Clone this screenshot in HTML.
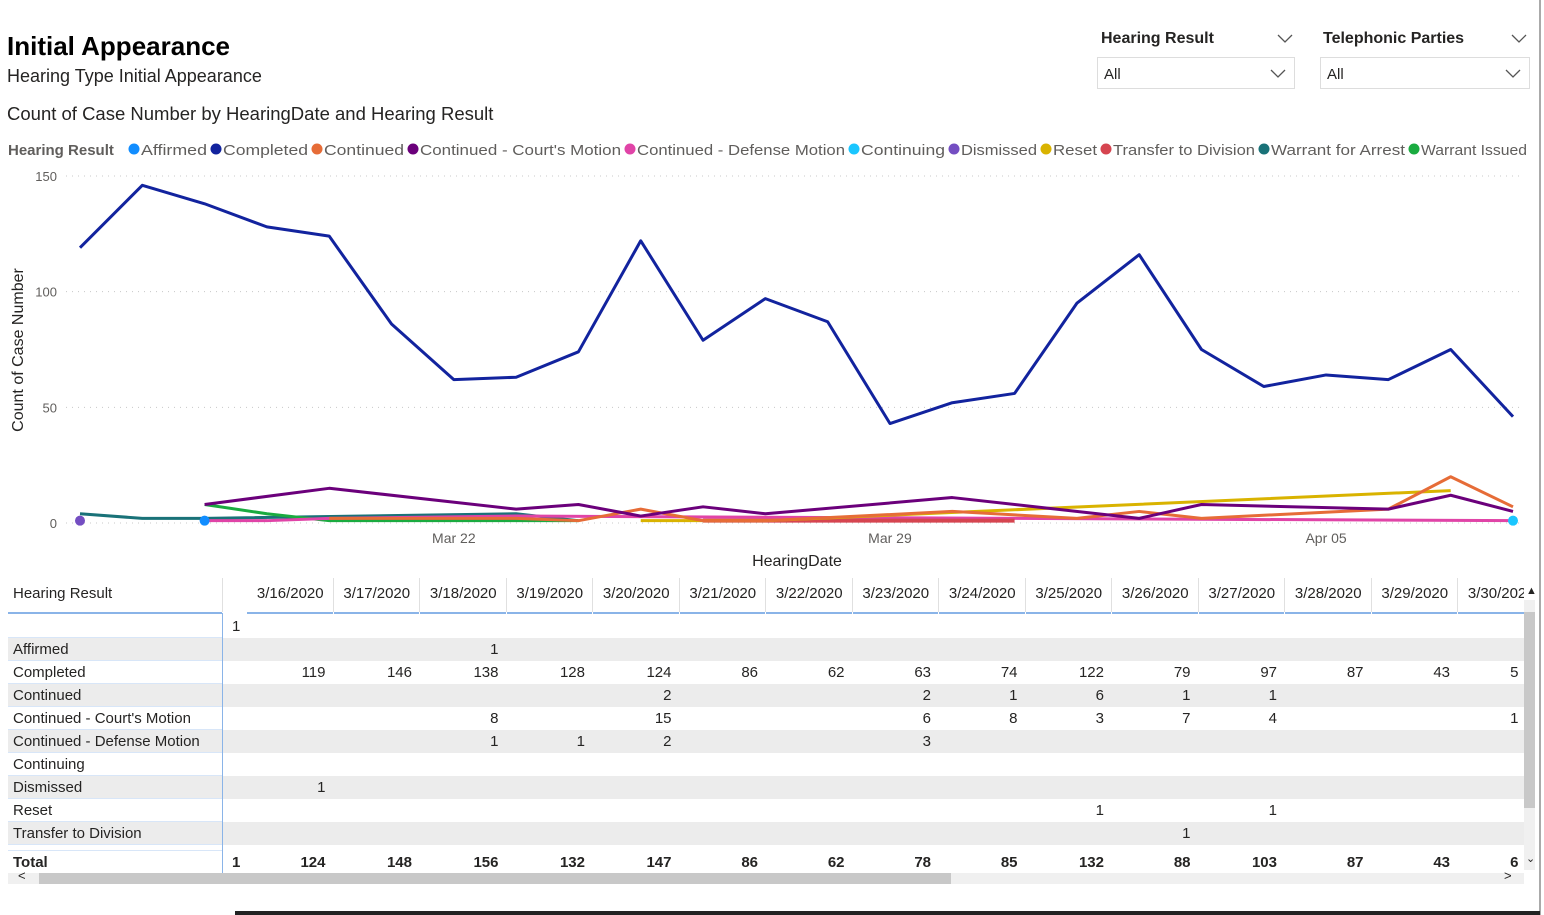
<!DOCTYPE html>
<html><head><meta charset="utf-8">
<style>
body{margin:0;width:1544px;height:915px;background:#fff;font-family:"Liberation Sans","DejaVu Sans",sans-serif;color:#252423;position:relative;overflow:hidden}
.abs{position:absolute;white-space:nowrap}
</style></head><body>
<div class="abs" style="left:7px;top:31px;font-size:26px;font-weight:bold;color:#000">Initial Appearance</div>
<div class="abs" style="left:7px;top:66px;font-size:18px">Hearing Type Initial Appearance</div>
<div class="abs" style="left:7px;top:103px;font-size:18.5px">Count of Case Number by HearingDate and Hearing Result</div>

<div class="abs" style="left:1101px;top:30px;font-size:16px;font-weight:bold">Hearing Result</div>
<svg class="abs" style="left:1277px;top:34px" width="16" height="10"><polyline points="1,1 8,8 15,1" fill="none" stroke="#555" stroke-width="1.3"/></svg>
<div class="abs" style="left:1097px;top:57px;width:198px;height:32px;border:1px solid #ddd;font-size:15px;line-height:34px;padding-left:6px;box-sizing:border-box">All<svg style="position:absolute;right:8px;top:11px" width="16" height="10"><polyline points="1,1 8,8 15,1" fill="none" stroke="#555" stroke-width="1.3"/></svg></div>
<div class="abs" style="left:1323px;top:30px;font-size:16px;font-weight:bold">Telephonic Parties</div>
<svg class="abs" style="left:1511px;top:34px" width="16" height="10"><polyline points="1,1 8,8 15,1" fill="none" stroke="#555" stroke-width="1.3"/></svg>
<div class="abs" style="left:1320px;top:57px;width:210px;height:32px;border:1px solid #ddd;font-size:15px;line-height:34px;padding-left:6px;box-sizing:border-box">All<svg style="position:absolute;right:8px;top:11px" width="16" height="10"><polyline points="1,1 8,8 15,1" fill="none" stroke="#555" stroke-width="1.3"/></svg></div>
<div class="abs" style="left:1539px;top:0;width:2px;height:915px;background:#aaa"></div>

<svg id="chart" width="1544" height="580" style="position:absolute;left:0;top:0"></svg>

<div id="table" style="position:absolute;left:0;top:575px;width:1524px;height:300px;overflow:hidden"></div>
<div class="abs" style="left:1524px;top:600px;width:11px;height:270px;background:#f0f0f0"><div style="margin-top:12px;height:196px;background:#c8c8c8"></div></div>
<div class="abs" style="left:1526px;top:585px;font-size:11px">&#9650;</div>
<div class="abs" style="left:1526px;top:852px;font-size:11px">&#8964;</div>
<div class="abs" style="left:8px;top:873px;width:1516px;height:11px;background:#f0f0f0"><div style="margin-left:31px;width:912px;height:11px;background:#c8c8c8"></div></div>
<div class="abs" style="left:18px;top:868px;font-size:13px">&lt;</div>
<div class="abs" style="left:1504px;top:868px;font-size:13px">&gt;</div>
<div class="abs" style="left:235px;top:911px;width:1305px;height:4px;background:#222"></div>

<script>
const dates=["Mar 16","Mar 17","Mar 18","Mar 19","Mar 20","Mar 21","Mar 22","Mar 23","Mar 24","Mar 25","Mar 26","Mar 27","Mar 28","Mar 29","Mar 30","Mar 31","Apr 01","Apr 02","Apr 03","Apr 04","Apr 05","Apr 06","Apr 07","Apr 08"];
const n=null;
const completed=[119,146,138,128,124,86,62,63,74,122,79,97,87,43,52,56,95,116,75,59,64,62,75,46];
const courtsMotion=[n,n,8,n,15,n,n,6,8,3,7,4,n,n,11,n,n,2,8,n,n,6,12,5];
const continued=[n,n,n,n,2,n,n,2,1,6,1,1,n,n,5,n,2,5,2,n,n,6,20,7];
const resetVals=[n,n,n,n,n,n,n,n,n,1,n,1,n,n,n,n,n,n,n,n,n,n,14,n];
const transferVals=[n,n,n,n,n,n,n,n,n,n,1,n,n,n,n,1,n,n,n,n,n,n,n,n];
const defenseMotion=[n,n,1,1,2,n,n,3,n,n,n,n,n,n,n,n,n,n,n,n,n,n,n,1];
const warrantArrest=[4,2,2,n,n,n,n,4,1,n,n,n,n,n,n,n,n,n,n,n,n,n,n,n];
const warrantIssued=[n,n,8,4,1,n,n,n,1,n,n,n,n,n,n,n,n,n,n,n,n,n,n,n];
const affirmed=[n,n,1,n,n,n,n,n,n,n,n,n,n,n,n,n,n,n,n,n,n,n,n,n];
const dismissed=[1,n,n,n,n,n,n,n,n,n,n,n,n,n,n,n,n,n,n,n,n,n,n,n];
const continuing=[n,n,n,n,n,n,n,n,n,n,n,n,n,n,n,n,n,n,n,n,n,n,n,1];
const yTicks=[0,50,100,150];
const xTickLabels=["Mar 22","Mar 29","Apr 05"];
const legendNames=["Affirmed","Completed","Continued","Continued - Court's Motion","Continued - Defense Motion","Continuing","Dismissed","Reset","Transfer to Division","Warrant for Arrest","Warrant Issued"];

const colors={"Affirmed":"#118DFF","Completed":"#12239E","Continued":"#E66C37","Continued - Court's Motion":"#6B007B","Continued - Defense Motion":"#E044A7","Continuing":"#1AC6FF","Dismissed":"#744EC2","Reset":"#D9B300","Transfer to Division":"#D64550","Warrant for Arrest":"#197278","Warrant Issued":"#1AAB40"};
const seriesMap={"Affirmed":affirmed,"Completed":completed,"Continued":continued,"Continued - Court's Motion":courtsMotion,"Continued - Defense Motion":defenseMotion,"Continuing":continuing,"Dismissed":dismissed,"Reset":resetVals,"Transfer to Division":transferVals,"Warrant for Arrest":warrantArrest,"Warrant Issued":warrantIssued};
const NS="http://www.w3.org/2000/svg";
const svg=document.getElementById('chart');
const x=i=>80+i*(1513-80)/(dates.length-1);
const y=v=>523-v*(523-176)/150;
function mk(t,a){const e=document.createElementNS(NS,t);for(const k in a)e.setAttribute(k,a[k]);svg.appendChild(e);return e;}
yTicks.forEach(t=>{
  const g=mk('line',{x1:66,x2:1524,y1:y(t),y2:y(t),stroke:'#c8c8c8','stroke-dasharray':'1 5'});
  
  
  const l=mk('text',{x:57,y:y(t)+5,'text-anchor':'end','font-size':13,fill:'#605e5c'});l.textContent=t;
  
  
});
xTickLabels.forEach(lab=>{
  const i=dates.indexOf(lab);
  const l=mk('text',{x:x(i),y:543,'text-anchor':'middle','font-size':14,fill:'#605e5c'});l.textContent=lab;
  
  
});
const xt=mk('text',{x:797,y:566,'text-anchor':'middle','font-size':16,fill:'#252423'});xt.textContent='HearingDate';


const yt=mk('text',{x:23,y:350,'text-anchor':'middle','font-size':16,fill:'#252423',transform:'rotate(-90 23 350)'});yt.textContent='Count of Case Number';


// legend
const lt=mk('text',{x:8,y:155,'font-size':15,'font-weight':'bold',fill:'#605e5c'});lt.textContent='Hearing Result';


const legendX=[134,216,317,413,630,854,954,1046,1106,1264,1414,1536];
legendNames.forEach((nm,k)=>{
  const lx=legendX[k];
  const c=mk('circle',{cx:lx,cy:149,r:5.5,fill:colors[nm]});
  
  
  const t=mk('text',{x:lx+7,y:155,'font-size':15,fill:'#605e5c',textLength:legendX[k+1]-lx-16,lengthAdjust:'spacingAndGlyphs'});t.textContent=nm;
  
  
});
// lines
const order=["Warrant for Arrest","Warrant Issued","Continued - Defense Motion","Transfer to Division","Reset","Continued","Continued - Court's Motion","Completed","Affirmed","Dismissed","Continuing"];
order.forEach(nm=>{
  const vals=seriesMap[nm];
  const pts=[];vals.forEach((v,i)=>{if(v!==null)pts.push([x(i),y(v)]);});
  if(pts.length>1){
    const p=mk('polyline',{points:pts.map(p=>p.join(',')).join(' '),fill:'none',stroke:colors[nm],'stroke-width':nm==="Transfer to Division"?4:3,'stroke-linejoin':'round'});
    
    
  } else if(pts.length===1){
    const c=mk('circle',{cx:pts[0][0],cy:pts[0][1],r:5,fill:colors[nm]});
    
    
  }
});

// table
const colDates=["3/16/2020","3/17/2020","3/18/2020","3/19/2020","3/20/2020","3/21/2020","3/22/2020","3/23/2020","3/24/2020","3/25/2020","3/26/2020","3/27/2020","3/28/2020","3/29/2020","3/30/2020"];
const rowNames=["","Affirmed","Completed","Continued","Continued - Court's Motion","Continued - Defense Motion","Continuing","Dismissed","Reset","Transfer to Division"];
const blankCol=["1","","","","","","","","",""];
const tableVals=[
 [],
 [,,1],
 [119,146,138,128,124,86,62,63,74,122,79,97,87,43,5],
 [,,,,2,,,2,1,6,1,1],
 [,,8,,15,,,6,8,3,7,4,,,1],
 [,,1,1,2,,,3],
 [],
 [1],
 [,,,,,,,,,1,,1],
 [,,,,,,,,,,1]
];
const totals=[124,148,156,132,147,86,62,78,85,132,88,103,87,43,6];
const tb=document.getElementById('table');
function div(css,txt){const d=document.createElement('div');d.style.cssText=css;if(txt!==undefined)d.textContent=txt;tb.appendChild(d);return d;}
const colW=86.5,col0=247;
function valLeft(j){return j===14?1440:col0+j*colW;}
const h=div('position:absolute;left:13px;top:10px;font-size:15px','Hearing Result');


div('position:absolute;left:8px;top:37px;width:214px;height:2px;background:#8ab4e8');
div('position:absolute;left:222px;top:3px;width:1px;height:34px;background:#e0e0e0');
colDates.forEach((d,j)=>{
  const e=div(`position:absolute;left:${col0+j*colW}px;top:10px;width:${colW}px;text-align:center;font-size:15px;white-space:nowrap`,d);
  
  
  div(`position:absolute;left:${col0+(j+1)*colW-1}px;top:3px;width:1px;height:34px;background:#e0e0e0`);
  div(`position:absolute;left:${col0+j*colW}px;top:37px;width:${colW-1}px;height:2px;background:#8ab4e8`);
});
rowNames.forEach((nm,r)=>{
  const top=40+r*23;
  if(r%2===1)div(`position:absolute;left:8px;top:${top}px;width:1520px;height:23px;background:#ececec`);
  const l=div(`position:absolute;left:13px;top:${top}px;font-size:15px;line-height:23px`,nm);
  
  
  div(`position:absolute;left:8px;top:${top+22}px;width:214px;height:1px;background:#d8e6f8`);
  if(blankCol[r]){const b=div(`position:absolute;left:232px;top:${top}px;font-size:15px;line-height:23px`,blankCol[r]);}
  (tableVals[r]||[]).forEach((v,j)=>{
    if(v===undefined)return;
    const c=div(`position:absolute;left:${valLeft(j)}px;top:${top}px;width:${colW-8}px;text-align:right;font-size:15px;line-height:23px`,v);
    
    
  });
});
div('position:absolute;left:222px;top:38px;width:1px;height:260px;background:#8ab4e8');
div('position:absolute;left:8px;top:275px;width:214px;height:1px;background:#d8e6f8');
const tl=div('position:absolute;left:13px;top:276px;font-size:15px;font-weight:bold;line-height:23px','Total');


div('position:absolute;left:232px;top:276px;font-size:15px;font-weight:bold;line-height:23px','1');
totals.forEach((v,j)=>{
  const c=div(`position:absolute;left:${valLeft(j)}px;top:276px;width:${colW-8}px;text-align:right;font-size:15px;font-weight:bold;line-height:23px`,v);
  
  
});
</script>
</body></html>
